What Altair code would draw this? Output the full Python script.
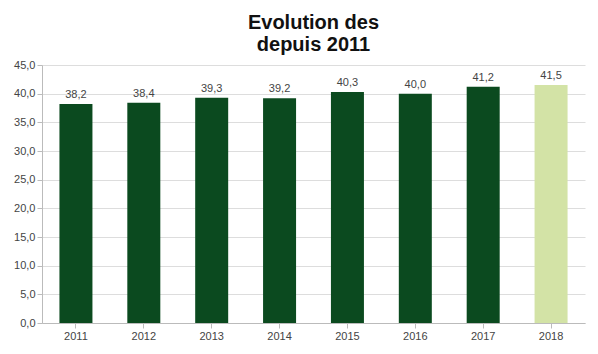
import altair as alt
import pandas as pd

years = ["2011", "2012", "2013", "2014", "2015", "2016", "2017", "2018"]
values = [38.2, 38.4, 39.3, 39.2, 40.3, 40.0, 41.2, 41.5]
kinds = ["réalisé"] * 7 + ["prévision"]
y_ticks = [0, 5, 10, 15, 20, 25, 30, 35, 40, 45]

df = pd.DataFrame({"annee": years, "valeur": values, "type": kinds})

base = alt.Chart(df).encode(
    x=alt.X("annee:N", title=None, sort=years,
            axis=alt.Axis(labelAngle=0, labelFontSize=11, labelColor="#444",
                          domainColor="#bbb", tickColor="#bbb", labelFont="Liberation Sans")),
    y=alt.Y("valeur:Q", title=None, scale=alt.Scale(domain=[0, 45]),
            axis=alt.Axis(values=y_ticks, labelOverlap=False,
                          labelExpr="replace(format(datum.value, '.1f'), '.', ',')",
                          labelFontSize=11, labelColor="#444", gridColor="#ddd",
                          domainColor="#bbb", tickColor="#bbb", labelFont="Liberation Sans")),
)

bars = base.mark_bar(size=33).encode(
    color=alt.Color("type:N", scale=alt.Scale(domain=["réalisé", "prévision"],
                                              range=["#0b4a1f", "#d3e3a6"]), legend=None),
)

labels = base.transform_calculate(
    lab="replace(format(datum.valeur, '.1f'), '.', ',')"
).mark_text(dy=-9, fontSize=11, color="#444", font="Liberation Sans").encode(
    text="lab:N"
)

chart = (bars + labels).properties(
    width=582, height=338,
    autosize=alt.AutoSizeParams(type="fit", contains="padding"),
    title=alt.TitleParams(["Evolution des", "depuis 2011"], fontSize=20,
                          font="Liberation Sans", fontWeight="bold", color="#111",
                          anchor="middle"),
).configure_view(stroke=None).configure_axisX(grid=False)

chart.save("out.html", embed_options={"renderer": "svg", "actions": False})
